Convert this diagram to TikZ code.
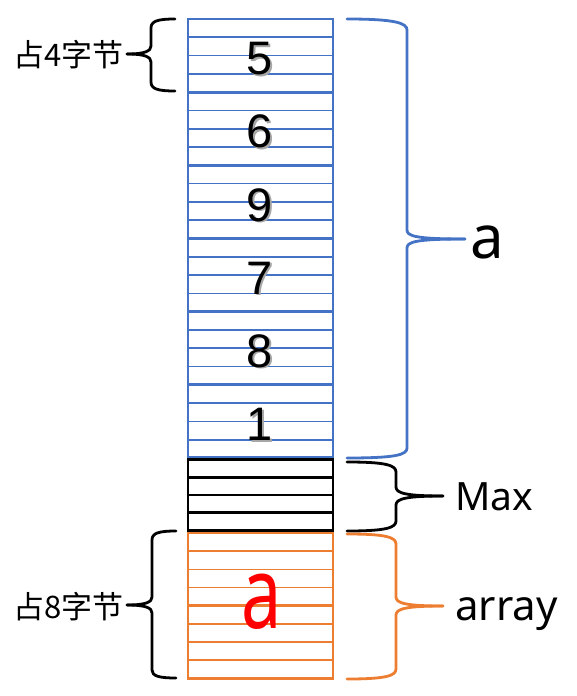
\documentclass[tikz,border=0pt]{standalone}
\usepackage{fontspec}
\setmainfont{Noto Sans}
\newfontfamily\cjk{Noto Sans CJK SC}
\newfontfamily\digitfont{Liberation Sans}
\definecolor{myblue}{HTML}{4472C4}
\definecolor{myorange}{HTML}{ED7D31}
\definecolor{myred}{HTML}{FF0000}
\tikzset{
  thinrow/.style={line width=1.7pt},
  thickrow/.style={line width=3.2pt},
  bracew/.style={line width=2.8pt, line cap=round, line join=round},
  digit/.style={inner sep=0pt, font=\digitfont\fontsize{47}{47}\selectfont},
  shadowdigit/.style={digit, text=black!35},
  lbl/.style={inner sep=0pt, text=black},
}
\begin{document}
\begin{tikzpicture}[x=1pt,y=-1pt]
\useasboundingbox (0,0) rectangle (576,696);
% blue block
\foreach \i in {1,2,3,5,6,7,9,10,11,13,14,15,17,18,19,21,22,23}
  \draw[myblue, thinrow] (188,{19+\i*439/24}) -- (333,{19+\i*439/24});
\foreach \i in {4,8,12,16,20}
  \draw[myblue, thickrow] (188,{19+\i*439/24}) -- (333,{19+\i*439/24});
\draw[myblue, line width=2.4pt] (188,19) rectangle (333,457.5);
% black block
\foreach \i in {1,2,3}
  \draw[black, line width=2.8pt] (188,{459.5+\i*17.75}) -- (333,{459.5+\i*17.75});
\draw[black, line width=2.8pt] (188,459.5) rectangle (333,530.5);
% orange block
\foreach \i in {1,2,3,5,6,7}
  \draw[myorange, thinrow] (188,{533+\i*145.5/8}) -- (333,{533+\i*145.5/8});
\draw[myorange, thickrow] (188,{533+4*145.5/8}) -- (333,{533+4*145.5/8});
\draw[myorange, line width=2.4pt] (188,533) rectangle (333,678.5);
% digits with shadow
\foreach \d/\k in {5/0,6/1,9/2,7/3,8/4,1/5}{
  \node[shadowdigit] (s\d) at (261.5,{19+73.17*(\k+0.5)+4.5}) {\d};
  \node[digit] (d\d) at (260,{19+73.17*(\k+0.5)+3}) {\d};
}
% red a
\node[inner sep=0pt, text=myred, xscale=0.72, font=\fontsize{100}{100}\selectfont] (reda) at (262,602) {a};
% right braces
\draw[myblue, bracew] (347,19) .. controls (395,19) and (407,23) .. (407,30) -- (407,230) .. controls (407,236) and (415,239) .. (465,239);
\draw[myblue, bracew] (465,239) .. controls (415,239) and (407,242) .. (407,248) -- (407,448) .. controls (407,455) and (395,458) .. (347,458);
\draw[black, bracew] (347,462) .. controls (385,462) and (396,465) .. (396,472) -- (396,487) .. controls (396,493) and (405,496) .. (443,496);
\draw[black, bracew] (443,496) .. controls (405,496) and (396,499) .. (396,505) -- (396,521) .. controls (396,528) and (385,531) .. (347,531);
\draw[myorange, bracew] (347,534) .. controls (385,534) and (396,537) .. (396,544) -- (396,597) .. controls (396,603) and (405,606) .. (443,606);
\draw[myorange, bracew] (443,606) .. controls (405,606) and (396,609) .. (396,615) -- (396,669) .. controls (396,676) and (385,679) .. (347,679);
% left braces
\draw[black, bracew] (175,19) .. controls (158,19) and (151,21) .. (151,28) -- (151,46) .. controls (151,51) and (145,54) .. (127,54);
\draw[black, bracew] (127,54) .. controls (145,54) and (151,57) .. (151,62) -- (151,82) .. controls (151,89) and (158,91) .. (175,91);
\draw[black, bracew] (176,531) .. controls (159,531) and (152,533) .. (152,540) -- (152,597) .. controls (152,602) and (146,605) .. (127,605);
\draw[black, bracew] (127,605) .. controls (146,605) and (152,608) .. (152,613) -- (152,670) .. controls (152,676) and (159,678) .. (176,678);
% labels
\node[lbl, anchor=west, font=\fontsize{60}{60}\selectfont] (la) at (470,242.5) {a};
\node[lbl, anchor=west, font=\fontsize{39}{39}\selectfont] (lmax) at (455,497) {Max};
\node[lbl, anchor=base west, font=\fontsize{42}{42}\selectfont] (larray) at (455,620) {array};
\node[lbl, anchor=base west, font=\cjk\fontsize{31}{31}\selectfont] (l4) at (13,66) {占4字节};
\node[lbl, anchor=base west, font=\cjk\fontsize{31}{31}\selectfont] (l8) at (13,618) {占8字节};
\end{tikzpicture}
\end{document}
